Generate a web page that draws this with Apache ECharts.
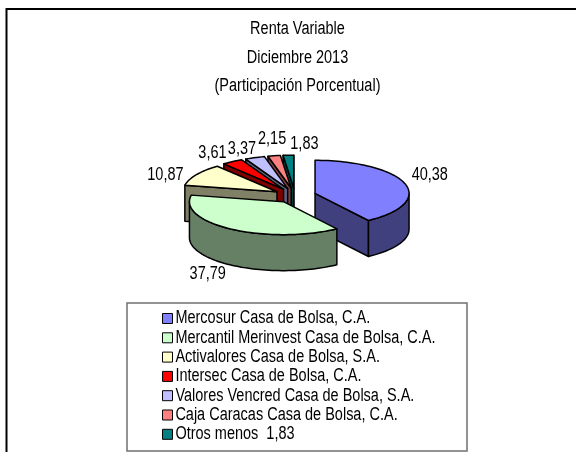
<!DOCTYPE html>
<html><head><meta charset="utf-8">
<script src="https://cdn.jsdelivr.net/npm/echarts@6/dist/echarts.min.js"></script>
<style>html,body{margin:0;padding:0;background:#fff}#c{width:576px;height:452px}</style>
</head><body><div id="c"></div>
<script>
var categories = ['Mercosur Casa de Bolsa, C.A.','Mercantil Merinvest Casa de Bolsa, C.A.','Activalores Casa de Bolsa, S.A.','Intersec Casa de Bolsa, C.A.','Valores Vencred Casa de Bolsa, S.A.','Caja Caracas Casa de Bolsa, C.A.','Otros menos  1,83'];
var values = [40.38,37.79,10.87,3.61,3.37,2.15,1.83];
var topColors = ['#8080FF','#CCFFCC','#FFFFCC','#FF0000','#C0C0FF','#FF8080','#008080'];
var sideColors = ['#40407F','#668066','#808066','#800000','#606080','#804040','#004040'];
var titleLines = ['Renta Variable','Diciembre 2013','(Participación Porcentual)'];
var labelNudges = [[25,-8],[-24,9],[-31,0],[-20,-9],[-13,-9],[-2,-17],[16,-11]];

var FONT = '"Liberation Sans",Arial,sans-serif';
var SQUEEZE = 0.805;
var CX = 295, CY = 195.5, RX = 94, RY = 33, DEPTH = 36, EXPLODE = 21;
var total = values.reduce(function(a,b){return a+b;},0);
var RAD = Math.PI/180;
function startAngle(i){var s=0;for(var k=0;k<i;k++)s+=values[k];return s/total*360;}

function renderSlice(i){
  return function(params, api){
    var v = api.value(0);
    var a0 = startAngle(i), a1 = a0 + v/total*360, mid = (a0+a1)/2;
    var ox = CX + EXPLODE*Math.sin(mid*RAD);
    var oy = CY - EXPLODE*Math.cos(mid*RAD)*RY/RX;
    function pt(a,dy){return [ox+RX*Math.sin(a*RAD), oy-RY*Math.cos(a*RAD)+(dy||0)];}
    function arc(from,to,dy){var p=[],n=Math.max(2,Math.ceil((to-from)/2));for(var k=0;k<=n;k++)p.push(pt(from+(to-from)*k/n,dy));return p;}
    var side = {fill:sideColors[i],stroke:'#000',lineWidth:1.5,lineJoin:'round'};
    var top = {fill:topColors[i],stroke:'#000',lineWidth:1.5,lineJoin:'round'};
    var ch = [];
    function poly(points,style){ch.push({type:'polygon',shape:{points:points},style:style,z2:oy*10+ch.length,silent:true});}
    if(Math.sin(a0*RAD)<0) poly([[ox,oy],pt(a0),pt(a0,DEPTH),[ox,oy+DEPTH]],side);
    if(Math.sin(a1*RAD)>0) poly([[ox,oy],pt(a1),pt(a1,DEPTH),[ox,oy+DEPTH]],side);
    var w0=Math.max(a0,90), w1=Math.min(a1,270);
    if(w1>w0) poly(arc(w0,w1,0).concat(arc(w0,w1,DEPTH).reverse()),side);
    poly([[ox,oy]].concat(arc(a0,a1,0)),top);
    var lp = pt(mid);
    if(Math.cos(mid*RAD)<0) lp[1]+=DEPTH;
    ch.push({type:'text',z2:5000,silent:true,x:lp[0]+labelNudges[i][0],y:lp[1]+labelNudges[i][1],
      style:{text:v.toFixed(2).replace('.',','),fill:'#000',font:'18px '+FONT,align:'center',verticalAlign:'middle'}});
    return {type:'group',children:ch};
  };
}

var series = categories.map(function(name,i){
  return {type:'custom',name:name,coordinateSystem:'none',silent:true,animation:false,
    itemStyle:{color:topColors[i]},
    data:[{name:name,value:[values[i]]}],
    renderItem:renderSlice(i)};
});

var chart = echarts.init(document.getElementById('c'),null,{renderer:'canvas'});
chart.setOption({
  backgroundColor:'#fff',animation:false,
  title:{text:titleLines.join('\n'),left:292.5,top:10,textAlign:'center',
    textStyle:{fontFamily:FONT,fontSize:18,fontWeight:'normal',color:'#000',lineHeight:28.5}},
  legend:{orient:'vertical',left:162,top:309.5,padding:0,itemWidth:10,itemHeight:10,itemGap:1.3,selectedMode:false,
    icon:'rect',data:categories,
    itemStyle:{borderColor:'#000',borderWidth:1},
    textStyle:{fontFamily:FONT,fontSize:18,color:'#000',padding:[0,0,0,1]}},
  graphic:[
    {type:'polyline',silent:true,shape:{points:[[6.5,452],[6.5,9],[576,9]]},style:{fill:null,stroke:'#000',lineWidth:2}},
    {type:'rect',silent:true,shape:{x:127,y:303,width:340,height:148},style:{fill:null,stroke:'#707070',lineWidth:1.5}}
  ],
  series:series
});
// The reference uses a condensed face that is not installed: narrow all text horizontally.
var zr = chart.getZr();
var seen = [];
zr.storage.getDisplayList(true).forEach(function(d){
  var t = d.parent;
  if(d.type==='tspan' && t && seen.indexOf(t)<0){seen.push(t);t.scaleX=SQUEEZE;t.markRedraw();}
});
zr.refreshImmediately();
</script></body></html>
